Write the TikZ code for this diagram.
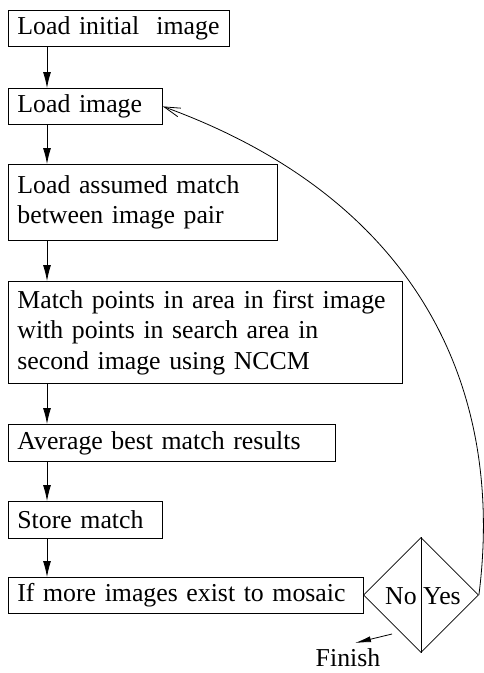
\documentclass[tikz,border=0pt]{standalone}
\usepackage{fontspec}
\setmainfont{Liberation Serif}
\usetikzlibrary{arrows.meta,shapes.geometric}
% one unbreakable line of box text
\newcommand{\boxline}[1]{\mbox{#1}}
\begin{document}
\begin{tikzpicture}[x=1pt,y=-1pt,
  flowbox/.style={draw, line width=0.8pt, anchor=north west, align=left,
    inner xsep=9pt, inner ysep=0pt, font=\fontsize{25.8}{30.5}\selectfont},
  flow/.style={-{Latex[length=16pt,width=8pt]}, line width=0.8pt},
  loopback/.style={-{Straight Barb[length=16pt,width=9pt]}, line width=0.8pt},
  decision/.style={draw, diamond, aspect=1, line width=0.8pt, inner sep=0pt,
    minimum width=115pt, minimum height=115pt},
  label/.style={font=\fontsize{25.8}{30.5}\selectfont, inner sep=0pt}]
\useasboundingbox (0,0) rectangle (484,673);

% process boxes (box width = text width + 18pt)
\node[flowbox, text width=203pt, minimum height=36pt] (b1) at (8,10) {\boxline{Load initial\ \ image}};
\node[flowbox, text width=136pt, minimum height=36pt] (b2) at (8,88) {\boxline{Load image}};
\node[flowbox, text width=251pt, minimum height=76pt] (b3) at (8,164) {\boxline{Load assumed match}\\\boxline{between image pair}};
\node[flowbox, text width=376pt, minimum height=102pt] (b4) at (8,281) {\boxline{Match points in area in first image}\\\boxline{with points in search area in}\\\boxline{second image using NCCM}};
\node[flowbox, text width=309pt, minimum height=37pt] (b5) at (8,424) {\boxline{Average best match results}};
\node[flowbox, text width=136pt, minimum height=37pt] (b6) at (8,501) {\boxline{Store match}};
\node[flowbox, text width=337pt, minimum height=36pt] (b7) at (8,577) {\boxline{If more images exist to mosaic}};

% decision diamond split in two halves
\node[decision] (dec) at (421,595) {};
\draw[line width=0.8pt] (dec.north) -- (dec.south);
\node[label] (no) at (401,596) {No};
\node[label] (yes) at (442,596) {Yes};
\node[label, anchor=base] (finish) at (348,666) {Finish};

% column of the downward arrows
\coordinate (xcol) at (47,0);
\draw[flow] (b1.south west -| xcol) -- (b2.north west -| xcol);
\draw[flow] (b2.south west -| xcol) -- (b3.north west -| xcol);
\draw[flow] (b3.south west -| xcol) -- (b4.north west -| xcol);
\draw[flow] (b4.south west -| xcol) -- (b5.north west -| xcol);
\draw[flow] (b5.south west -| xcol) -- (b6.north west -| xcol);
\draw[flow] (b6.south west -| xcol) -- (b7.north west -| xcol);

% "Yes" loops back to loading the next image
\draw[loopback] (dec.east) .. controls (505,390) and (420,200) .. (b2.east);

% "No" leads to the end
\coordinate (fstart) at (392,634);
\coordinate (fend) at (355,643);
\draw[-{Latex[length=16pt,width=6pt]}, line width=0.8pt] (fstart) -- (fend);
\end{tikzpicture}
\end{document}
